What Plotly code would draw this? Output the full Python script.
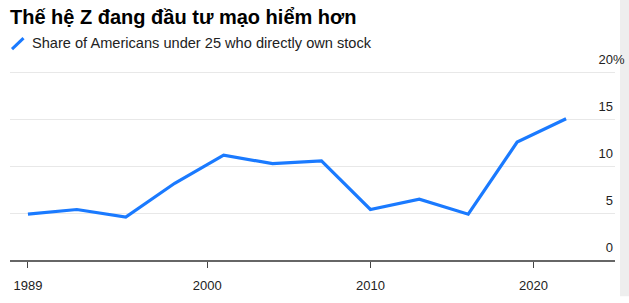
import plotly.graph_objects as go

years = [1989, 1992, 1995, 1998, 2001, 2004, 2007, 2010, 2013, 2016, 2019, 2022]
share = [4.9, 5.4, 4.6, 8.2, 11.2, 10.3, 10.6, 5.4, 6.5, 4.9, 12.6, 15.1]
y_tickvals = [0, 5, 10, 15, 20]
y_ticktext = ["0", "5", "10", "15", "20"]
y_top_suffix = "%"
x_tickvals = [1989, 2000, 2010, 2020]
x_ticktext = ["1989", "2000", "2010", "2020"]
title_text = "Thế hệ Z đang đầu tư mạo hiểm hơn"
legend_text = "Share of Americans under 25 who directly own stock"

BLUE = "#1a7aff"
FONT = "Liberation Sans, Arial, sans-serif"
W, H = 629, 303
L, R, T, B = 10, 14, 50, 33
PW = W - L - R
PH = H - T - B
PX_PER_UNIT = 9.8
Y_MAX = PH / PX_PER_UNIT

def px(x):
    return (x - L) / PW

def py(y):
    return (H - B - y) / PH

fig = go.Figure()
fig.add_trace(go.Scatter(x=years, y=share, mode="lines",
                         line=dict(color=BLUE, width=3.2), showlegend=False,
                         hoverinfo="skip"))

fig.update_layout(
    width=W, height=H,
    margin=dict(l=L, r=R, t=T, b=B),
    paper_bgcolor="white", plot_bgcolor="white",
    font=dict(family=FONT, color="#222222", size=13),
    title=dict(text="<b>" + title_text + "</b>", x=10 / W, xanchor="left",
               y=1 - 17 / H, yanchor="middle",
               font=dict(family=FONT, size=20, color="#000000")),
    xaxis=dict(range=[1987.9, 2025.0], tickvals=x_tickvals, ticktext=x_ticktext,
               showgrid=False, zeroline=False, showline=True, linecolor="#666666",
               linewidth=1.5, ticks="outside", ticklen=6, tickcolor="#444444",
               tickwidth=1, ticklabelstandoff=7,
               tickfont=dict(size=13, color="#222222")),
    yaxis=dict(range=[0, Y_MAX], tickvals=y_tickvals, ticktext=y_ticktext,
               side="right", ticklabelposition="inside", ticklabelshift=-13,
               ticklabelstandoff=-1,
               showgrid=True, gridcolor="#e8e8e8", gridwidth=1,
               zeroline=False, showline=False, ticks="",
               tickfont=dict(size=13, color="#222222")),
    annotations=[
        dict(text=legend_text, xref="paper", yref="paper",
             x=px(30), y=py(43), xanchor="left", yanchor="middle",
             showarrow=False, font=dict(size=14.6, color="#222222")),
        dict(text=y_top_suffix, xref="paper", yref="y",
             x=px(612), y=y_tickvals[-1], xanchor="left", yanchor="middle",
             yshift=13, showarrow=False, borderpad=0,
             font=dict(size=13, color="#222222")),
    ],
    shapes=[
        dict(type="line", xref="paper", yref="paper", x0=px(12), y0=py(49),
             x1=px(23.5), y1=py(37.5), line=dict(color=BLUE, width=3)),
        dict(type="rect", xref="paper", yref="paper", x0=px(620), x1=px(630),
             y0=py(H + 5), y1=py(-5), fillcolor="#eeeeee", line=dict(width=0),
             layer="below"),
    ],
)

fig.write_html("out.html")
